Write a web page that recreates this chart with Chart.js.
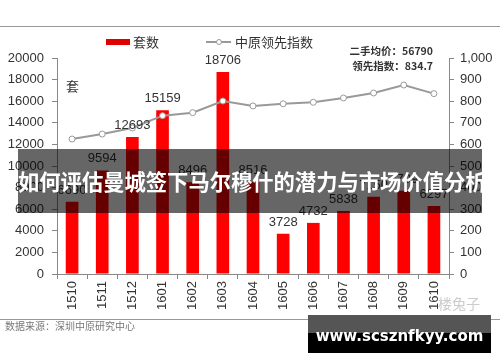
<!DOCTYPE html>
<html>
<head>
<meta charset="utf-8">
<script src="https://cdn.jsdelivr.net/npm/chart.js@4"></script>
<style>
  body { margin: 0; background: #fff; }
  #wrap { position: relative; width: 500px; height: 362px; overflow: hidden; font-family: "Noto Sans CJK SC", sans-serif; }
  .hr { position: absolute; left: 0; width: 500px; height: 1px; background: #999; }
  .txt { position: absolute; white-space: nowrap; }
  #banner { position: absolute; left: 18px; top: 149px; width: 464px; height: 64px; background: rgba(0,0,0,0.6);
            color: #fff; font-weight: bold; font-size: 21.3px; line-height: 64px; text-align: center; white-space: nowrap; }
  #wm { position: absolute; left: 308px; top: 315px; width: 183px; height: 38px; background: #000;
        color: #fff; font-family: "DejaVu Sans", sans-serif; font-weight: bold; font-size: 15px; line-height: 42px; text-align: center; white-space: nowrap; }
  #wm .top { position: absolute; left: 0; top: 0; width: 183px; height: 18px; background: #555; }
  #wm span { position: relative; }
</style>
</head>
<body>
<div id="wrap">
  <canvas id="chart" width="500" height="362"></canvas>
  <div class="hr" style="top:26px"></div>
  <div class="hr" style="top:319px"></div>
  <div class="txt" style="left:5px;top:318px;font-size:10px;color:#777">数据来源：深圳中原研究中心</div>
  <div class="txt" style="left:438px;top:293px;font-size:14px;color:#ccc">楼兔子</div>
  <div id="banner">如何评估曼城签下马尔穆什的潜力与市场价值分析</div>
  <div id="wm"><div class="top"></div><span>www.scsznfkyy.com</span></div>
</div>
<script>
const months = ['1510', '1511', '1512', '1601', '1602', '1603', '1604', '1605', '1606', '1607', '1608', '1609', '1610'];
const units = [6690, 9594, 12693, 15159, 8496, 18706, 8516, 3728, 4732, 5838, 7150, 7709, 6297];
const index = [625, 648, 676, 733, 747, 801, 778, 788, 795, 815, 838, 875, 835];
const unitTicks = [0, 2000, 4000, 6000, 8000, 10000, 12000, 14000, 16000, 18000, 20000];
const indexTicks = [0, 100, 200, 300, 400, 500, 600, 700, 800, 900, 1000];

const tickFont = { family: 'Liberation Sans', size: 13 };
const axisGray = '#888';

// value labels on top of the bars
const barLabels = {
    id: 'barLabels',
    afterDatasetsDraw(chart) {
        const ctx = chart.ctx;
        const meta = chart.getDatasetMeta(0);
        ctx.save();
        ctx.font = '13px "Liberation Sans"';
        ctx.fillStyle = '#333';
        ctx.textAlign = 'center';
        ctx.textBaseline = 'bottom';
        meta.data.forEach(function(bar, i) {
            ctx.fillText(units[i], bar.x, bar.y - 5);
        });
        ctx.restore();
    }
};

// legend, unit label and the price note
const extras = {
    id: 'extras',
    afterDraw(chart) {
        const ctx = chart.ctx;
        ctx.save();
        ctx.fillStyle = '#e00000';
        ctx.fillRect(106, 39, 24, 6);
        ctx.font = '13px "Noto Sans CJK SC"';
        ctx.fillStyle = '#333';
        ctx.textBaseline = 'middle';
        ctx.fillText('套数', 133, 42);
        ctx.strokeStyle = '#999';
        ctx.lineWidth = 2;
        ctx.beginPath();
        ctx.moveTo(206, 42);
        ctx.lineTo(231, 42);
        ctx.stroke();
        ctx.beginPath();
        ctx.arc(219, 42, 2.5, 0, Math.PI * 2);
        ctx.fillStyle = '#fff';
        ctx.fill();
        ctx.lineWidth = 1;
        ctx.stroke();
        ctx.fillStyle = '#333';
        ctx.fillText('中原领先指数', 235, 42);
        ctx.fillText('套', 66, 86);
        ctx.font = 'bold 10.5px "Noto Sans CJK SC"';
        ctx.textAlign = 'right';
        ctx.fillText('二手均价：56790', 433, 51);
        ctx.fillText('领先指数：834.7', 433, 66);
        ctx.restore();
    }
};

new Chart(document.getElementById('chart'), {
    data: {
        labels: months,
        datasets: [{
            type: 'bar',
            label: '套数',
            data: units,
            backgroundColor: '#ff0000',
            barPercentage: 0.42,
            categoryPercentage: 1,
            yAxisID: 'y',
            order: 2
        }, {
            type: 'line',
            label: '中原领先指数',
            data: index,
            borderColor: '#999',
            borderWidth: 2,
            pointRadius: 3,
            pointBackgroundColor: '#fff',
            pointBorderColor: '#999',
            pointBorderWidth: 1,
            tension: 0,
            yAxisID: 'y1',
            order: 1
        }]
    },
    options: {
        responsive: false,
        animation: false,
        layout: { padding: { top: 58, left: 0, right: 0, bottom: 0 } },
        plugins: { legend: { display: false }, tooltip: { enabled: false } },
        scales: {
            x: {
                grid: { drawOnChartArea: false, tickLength: 5, color: axisGray },
                border: { color: axisGray },
                ticks: { font: tickFont, color: '#333', maxRotation: 90, minRotation: 90, padding: 2 },
                afterFit(s) { s.height = 88; }
            },
            y: {
                position: 'left',
                min: 0, max: 20000,
                afterBuildTicks(s) { s.ticks = unitTicks.map(v => ({ value: v })); },
                grid: { drawOnChartArea: false, tickLength: 5, color: axisGray },
                border: { color: axisGray },
                ticks: { font: tickFont, color: '#333', padding: 8, callback: v => String(v) },
                afterFit(s) { s.width = 57; }
            },
            y1: {
                position: 'right',
                min: 0, max: 1000,
                afterBuildTicks(s) { s.ticks = indexTicks.map(v => ({ value: v })); },
                grid: { drawOnChartArea: false, tickLength: 5, color: axisGray },
                border: { color: axisGray },
                ticks: { font: tickFont, color: '#333', padding: 6, callback: v => v.toLocaleString('en-US') },
                afterFit(s) { s.width = 51; }
            }
        }
    },
    plugins: [barLabels, extras]
});
</script>
</body>
</html>
